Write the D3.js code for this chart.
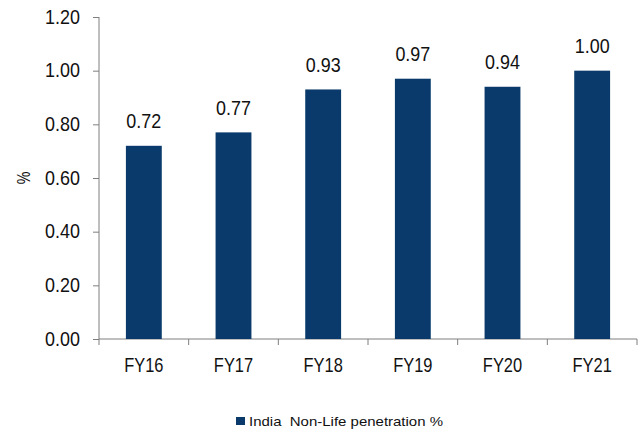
<!DOCTYPE html>
<html>
<head>
<meta charset="utf-8">
<script src="https://cdn.jsdelivr.net/npm/d3@7"></script>
<style>
  body { margin: 0; background: #fff; }
  svg { display: block; }
</style>
</head>
<body>
<div id="chart"></div>
<script>
// data
var years = ["FY16", "FY17", "FY18", "FY19", "FY20", "FY21"];
var penetration = [0.72, 0.77, 0.93, 0.97, 0.94, 1.00];
var yTicks = [0, 0.2, 0.4, 0.6, 0.8, 1.0, 1.2];
var seriesName = "India  Non-Life penetration %";

var W = 641, H = 430;
var margin = {top: 17, right: 4, bottom: 91, left: 99},
    width = 637 - margin.left,
    height = 339 - margin.top;

var font = "'Liberation Sans', Arial, sans-serif";
var barColor = "#0a3a6b";
var axisColor = "#7f7f7f";
var textColor = "#111";

// the original uses a condensed face; squeeze Liberation Sans horizontally
function squeeze(sel, k) {
  sel.attr("transform", function() {
    var x = +d3.select(this).attr("x") || 0;
    return "translate(" + x + ",0) scale(" + k + ",1) translate(" + (-x) + ",0)";
  });
}

var svg = d3.select("#chart")
  .append("svg")
    .attr("width", W)
    .attr("height", H)
  .append("g")
    .attr("transform", "translate(" + margin.left + "," + margin.top + ")");

var x = d3.scaleBand()
  .domain(years)
  .range([0, width])
  .paddingInner(0.6)
  .paddingOuter(0.3);

var y = d3.scaleLinear()
  .domain([0, 1.2])
  .range([height, 0]);

// y axis
var yAxisG = svg.append("g")
  .call(d3.axisLeft(y).tickValues(yTicks).tickFormat(d3.format(".2f")).tickSize(6).tickPadding(13));
yAxisG.select(".domain").attr("stroke", axisColor).attr("d", "M0," + height + "V0");
yAxisG.selectAll(".tick line").attr("stroke", axisColor);
yAxisG.selectAll(".tick text")
  .attr("fill", textColor)
  .attr("font-size", "19.5px")
  .attr("font-family", font)
  .call(squeeze, 0.92);

// x axis, ticks sit on the category boundaries
var xAxisG = svg.append("g")
  .attr("transform", "translate(0," + height + ")");
xAxisG.append("line")
  .attr("x1", 0).attr("x2", width)
  .attr("stroke", axisColor);
var bounds = d3.range(years.length + 1).map(function(i) { return i * width / years.length; });
xAxisG.selectAll(".bound")
  .data(bounds)
  .enter().append("line")
    .attr("x1", function(d) { return d; })
    .attr("x2", function(d) { return d; })
    .attr("y1", 0).attr("y2", 6)
    .attr("stroke", axisColor);
xAxisG.selectAll(".xlab")
  .data(years)
  .enter().append("text")
    .attr("x", function(d) { return x(d) + x.bandwidth() / 2; })
    .attr("y", 33.5)
    .attr("text-anchor", "middle")
    .attr("fill", textColor)
    .attr("font-size", "19.8px")
    .attr("font-family", font)
    .text(function(d) { return d; })
    .call(squeeze, 0.83);

// y label
svg.append("text")
  .attr("transform", "translate(" + (-75.5) + "," + (height / 2) + ") rotate(-90) scale(0.75,1)")
  .attr("text-anchor", "middle")
  .attr("dy", "0.35em")
  .attr("fill", textColor)
  .attr("font-size", "19px")
  .attr("font-family", font)
  .text("%");

// bars
svg.selectAll(".bar")
  .data(penetration)
  .enter().append("rect")
    .attr("x", function(d, i) { return x(years[i]); })
    .attr("y", function(d) { return y(d); })
    .attr("width", x.bandwidth())
    .attr("height", function(d) { return height - y(d); })
    .attr("fill", barColor);

// value labels
svg.selectAll(".val")
  .data(penetration)
  .enter().append("text")
    .attr("x", function(d, i) { return x(years[i]) + x.bandwidth() / 2; })
    .attr("y", function(d) { return y(d) - 17.5; })
    .attr("text-anchor", "middle")
    .attr("fill", textColor)
    .attr("font-size", "19.5px")
    .attr("font-family", font)
    .text(function(d) { return d3.format(".2f")(d); })
    .call(squeeze, 0.92);

// legend
var legend = svg.append("g")
  .attr("transform", "translate(" + (236 - margin.left) + "," + (417 - margin.top) + ")");
legend.append("rect")
  .attr("width", 9).attr("height", 8)
  .attr("fill", barColor);
legend.append("text")
  .attr("x", 13)
  .attr("y", 8.5)
  .attr("fill", textColor)
  .attr("font-size", "13.5px")
  .attr("font-family", font)
  .attr("textLength", 194)
  .attr("lengthAdjust", "spacingAndGlyphs")
  .style("white-space", "pre")
  .text(seriesName);
</script>
</body>
</html>
